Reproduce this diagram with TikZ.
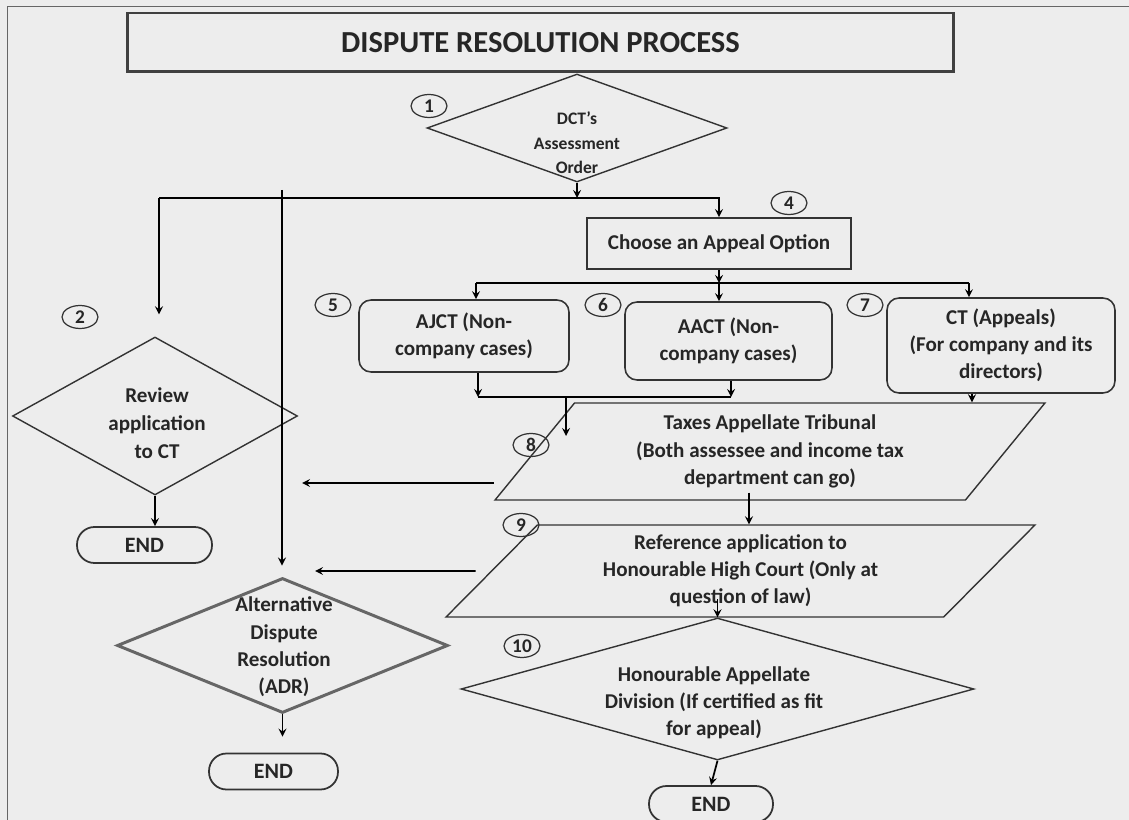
\documentclass[tikz,border=0pt]{standalone}
\usepackage{fontspec}
\setmainfont{Carlito}
\usetikzlibrary{shapes.geometric, arrows}
\tikzstyle{arrow} = [line width=1pt,->,>=stealth]

\begin{document}
\begin{tikzpicture}[
    x=0.02cm, y=-0.02cm,
    every node/.style={align=center, text=black!85, font=\bfseries\fontsize{12}{15.5}\selectfont},
    title-box/.style={draw=black!75, line width=1.7pt, minimum width=16.54cm, minimum height=1.18cm, inner sep=0pt, font=\bfseries\fontsize{17.4}{20}\selectfont},
    dec-dia/.style={diamond, draw=black!80, line width=0.8pt, inner sep=0pt},
    opt-box/.style={draw=black!80, line width=0.9pt, rounded corners=0.24cm, inner sep=0pt},
    para-box/.style={trapezium, trapezium stretches body, draw=black!80, line width=0.8pt, inner sep=0pt},
    end-box/.style={draw=black!80, line width=1pt, rounded corners=0.35cm, minimum height=0.72cm, inner sep=0pt, font=\bfseries\fontsize{12.5}{14}\selectfont},
    num/.style={ellipse, draw=black!80, line width=0.7pt, minimum width=0.72cm, minimum height=0.46cm, inner sep=0pt, font=\bfseries\fontsize{11}{11}\selectfont}
  ]

  \useasboundingbox (0,0) rectangle (1129,820);
  \fill[black!7] (0,0) rectangle (1129,820);
  \draw[black!60, line width=0.5pt] (7,820) -- (7,6) -- (1129,6);

  \node[title-box] (title) at (540.5,42.5) {DISPUTE RESOLUTION PROCESS};

  \node[dec-dia, minimum width=6cm, minimum height=2.16cm] (dct) at (577,128) {};
  \node[font=\bfseries\fontsize{10}{14}\selectfont] (dcttxt) at (577,143) {DCT's\\Assessment\\Order};

  \node[draw=black!80, line width=1pt, minimum width=5.28cm, minimum height=1.02cm] (appeal) at (719,243.5) {Choose an Appeal Option};

  \node[opt-box, minimum width=4.2cm, minimum height=1.44cm] (ajct) at (464,336) {AJCT (Non-\\company cases)};
  \node[opt-box, minimum width=4.14cm, minimum height=1.56cm] (aact) at (728.5,341) {AACT (Non-\\company cases)};
  \node[opt-box, minimum width=4.56cm, minimum height=1.9cm] (ct) at (1001,345.5) {CT (Appeals)\\(For company and its\\directors)};

  \node[dec-dia, minimum width=5.7cm, minimum height=3.16cm] (review) at (155,416) {};
  \node[font=\bfseries\fontsize{12}{16}\selectfont] (reviewtxt) at (157,423) {Review\\application\\to CT};
  \node[end-box, minimum width=2.7cm] (end1) at (144.5,545) {END};

  \node[dec-dia, draw=black!60, line width=1.7pt, minimum width=6.62cm, minimum height=2.7cm] (adr) at (282.5,645.5) {};
  \node (adrtxt) at (284,647) {Alternative\\Dispute\\Resolution\\(ADR)};
  \node[end-box, minimum width=2.58cm] (end2) at (273.5,771.5) {END};

  \node[para-box, trapezium left angle=42.5, trapezium right angle=137.5, minimum width=11cm, minimum height=1.94cm] (tat) at (770,451.5) {Taxes Appellate Tribunal\\(Both assessee and income tax\\department can go)};
  \node[para-box, trapezium left angle=38.5, trapezium right angle=141.5, minimum width=11.78cm, minimum height=1.84cm] (ref) at (740.5,571) {Reference application to\\Honourable High Court (Only at\\question of law)};

  \node[dec-dia, minimum width=10.26cm, minimum height=2.84cm] (had) at (717.5,689) {};
  \node (hadtxt) at (714,703) {Honourable Appellate\\Division (If certified as fit\\for appeal)};
  \node[end-box, minimum width=2.48cm] (end3) at (711,804) {END};

  \node[num] (n1) at (429,106) {1};
  \node[num] (n2) at (80,317) {2};
  \node[num] (n4) at (789,203) {4};
  \node[num] (n5) at (333,305) {5};
  \node[num] (n6) at (603,305) {6};
  \node[num] (n7) at (865,305) {7};
  \node[num] (n8) at (531,445) {8};
  \node[num] (n9) at (521,525) {9};
  \node[num] (n10) at (522,646) {10};

  \coordinate (bus1) at (159,198);
  \coordinate (adrtop) at (282,190);
  \draw[arrow] (dct.south) -- (dct.south |- bus1);
  \draw[arrow] (bus1) -| (appeal.north);
  \draw[arrow, shorten >=0.44cm] (bus1) -- (bus1 |- review.north);
  \draw[arrow, shorten >=0.22cm] (adrtop) -- (adrtop |- adr.north);

  \coordinate (bus2) at (476,283);
  \coordinate (bus2r) at (969,283);
  \draw[line width=1pt] (bus2) -- (bus2r);
  \draw[arrow] (appeal.south) -- (appeal.south |- bus2);
  \draw[arrow] (appeal.south |- bus2) -- (appeal.south |- aact.north);
  \draw[arrow] (bus2) -- (bus2 |- ajct.north);
  \draw[arrow] (bus2r) -- (bus2r |- ct.north);

  \coordinate (bus3) at (478,397);
  \coordinate (bus3r) at (731,397);
  \coordinate (tatin) at (566,436);
  \draw[arrow] (bus3 |- ajct.south) -- (bus3);
  \draw[arrow] (bus3r |- aact.south) -- (bus3r);
  \draw[line width=1pt] (bus3) -- (bus3r);
  \draw[arrow] (tatin |- bus3) -- (tatin);
  \draw[arrow] ([xshift=-0.58cm]ct.south) -- ([xshift=-0.58cm]ct.south |- tat.north);

  \coordinate (tatdown) at ([xshift=-0.42cm]tat.center);
  \draw[arrow] ([yshift=0.16cm]tatdown |- tat.south) -- (tatdown |- ref.north);
  \draw[arrow] ([yshift=0.36cm]had.north) -- (had.north);
  \draw[arrow] (had.south) -- (end3.north);
  \draw[arrow] (review.south) -- (review.south |- end1.north);
  \draw[arrow, shorten >=0.32cm] (adr.south) -- (adr.south |- end2.north);

  \coordinate (tatback) at (302,483);
  \coordinate (refback) at (315,571);
  \draw[arrow] (tatback -| tat.bottom left corner) -- (tatback);
  \draw[arrow] ([xshift=-0.3cm]ref.west) -- (refback);

\end{tikzpicture}
\end{document}
